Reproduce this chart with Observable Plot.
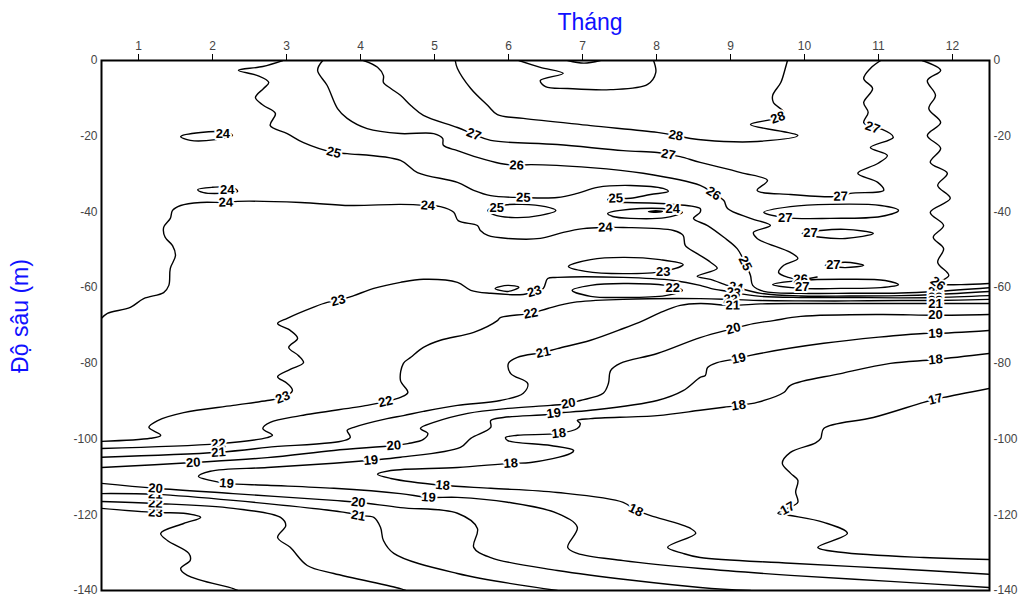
<!DOCTYPE html>
<html>
<head>
<meta charset="utf-8">
<script src="https://cdn.jsdelivr.net/npm/d3@7"></script>
<script src="https://cdn.jsdelivr.net/npm/@observablehq/plot@0.6"></script>
<style>
  html, body { margin: 0; padding: 0; background: #fff; }
  #chart { width: 1019px; height: 599px; }
</style>
</head>
<body>
<div id="chart"></div>
<script>
// ---------- axis values ----------
const monthTicks = [1, 2, 3, 4, 5, 6, 7, 8, 9, 10, 11, 12];
const depthTicks = [0, -20, -40, -60, -80, -100, -120, -140];
const monthDomain = [0.5, 12.5];
const depthDomain = [-140, 0];

// ---------- isolines: [month, depth (m)] ----------
const c30 = [[6.8,0],[7.02,-0.7],[7.24,0]];
const c29 = [[6.14,0],[6.43,-1.8],[6.74,-3.4],[6.43,-5.3],[6.5,-6.9],[6.8,-7.4],[7.38,-7.7],[7.88,-6.3],[7.99,-3.2],[7.96,0]];
const c28 = [[5.28,0],[5.31,-2.1],[5.49,-7.4],[5.72,-11.9],[5.85,-14.3],[6.2,-15.3],[7.11,-17.2],[8.01,-19.0],[8.26,-19.8],[8.46,-20.6],[8.91,-21.4],[9.36,-21.4],[9.91,-19.8],[9.27,-16.9],[9.64,-15.1],[9.72,-13.7],[9.58,-11.1],[9.57,-9.2],[9.68,-5.8],[9.74,-2.1],[9.77,0]];
const c27 = [[4.04,0],[4.23,-1.8],[4.31,-4.0],[4.31,-5.8],[4.41,-7.4],[4.54,-9.2],[4.68,-11.9],[4.85,-14.5],[5.31,-17.7],[5.53,-19.5],[5.76,-21.1],[6.66,-22.2],[7.55,-23.8],[8.01,-24.3],[8.16,-24.8],[8.32,-25.4],[8.59,-26.9],[9.14,-29.6],[9.5,-31.7],[9.36,-34.3],[9.81,-35.4],[10.49,-35.9],[10.62,-35.1],[11.07,-34.3],[10.99,-32.2],[10.72,-29.8],[10.99,-27.2],[11.12,-25.1],[10.89,-23.0],[11.2,-20.3],[11.05,-18.2],[10.92,-17.7],[10.8,-16.4],[10.86,-13.7],[10.8,-11.1],[10.92,-7.4],[10.8,-4.8],[10.89,-2.1],[11.03,0]];
const c26 = [[3.49,0],[3.42,-2.6],[3.55,-6.6],[3.69,-12.7],[3.82,-15.3],[4.09,-18.0],[4.54,-19.3],[4.99,-19.3],[5.11,-20.6],[5.12,-22.4],[5.31,-23.8],[5.58,-25.6],[5.89,-27.2],[6.11,-27.7],[6.3,-27.5],[7.11,-28.3],[7.82,-29.8],[8.59,-33.0],[8.77,-35.1],[8.91,-37.0],[8.96,-39.1],[9.27,-41.7],[9.54,-43.6],[9.31,-45.4],[9.36,-47.0],[9.81,-50.7],[9.91,-52.3],[9.72,-54.1],[9.65,-56.0],[9.78,-57.3],[9.95,-57.8],[10.17,-57.2]];
const c26b = [[11.59,0],[11.84,-2.6],[11.66,-5.3],[11.77,-9.2],[11.68,-12.7],[11.84,-16.4],[11.66,-19.8],[11.84,-23.2],[11.7,-26.9],[11.93,-29.8],[11.8,-33.0],[11.97,-36.4],[11.7,-40.1],[11.88,-43.6],[11.74,-46.7],[11.88,-49.7],[11.8,-53.3],[11.95,-56.8],[11.8,-58.9],[12.11,-59.2],[12.5,-58.9]];
const c25 = [[2.95,0],[2.68,-1.6],[2.35,-2.6],[2.61,-4.0],[2.76,-5.8],[2.69,-7.4],[2.58,-9.8],[2.69,-11.9],[2.85,-14.0],[2.78,-17.2],[3.01,-19.3],[3.23,-21.7],[3.64,-24.3],[3.82,-24.6],[4.54,-26.4],[4.77,-29.6],[5.31,-32.2],[5.53,-34.3],[5.76,-35.7],[6.2,-36.2],[6.66,-36.2],[6.93,-35.1],[7.2,-33.5],[7.65,-33.0],[8.09,-33.8],[8.16,-34.6],[7.92,-35.4],[7.65,-36.4],[7.45,-36.4],[7.34,-36.7],[7.38,-37.5],[7.55,-37.5],[8.23,-38.0],[8.59,-39.1],[8.59,-40.1],[8.5,-41.7],[8.69,-43.6],[8.91,-46.7],[9.09,-49.7],[9.2,-53.6],[9.27,-56.8],[9.3,-59.4],[9.45,-61.0],[9.95,-61.5],[10.62,-61.5],[11.3,-61.4],[11.77,-61.0],[12.5,-60.0]];
const c24 = [[0.5,-68.1],[0.58,-66.8],[0.89,-65.2],[1.07,-62.9],[1.34,-61.3],[1.41,-59.4],[1.43,-54.9],[1.5,-51.5],[1.46,-48.9],[1.36,-46.7],[1.34,-44.1],[1.43,-41.7],[1.46,-39.6],[1.57,-38.3],[1.84,-37.5],[2.18,-37.5],[2.34,-37.2],[3.19,-37.5],[3.86,-38.3],[4.54,-38.0],[4.91,-38.3],[5.08,-38.6],[5.26,-40.1],[5.32,-42.3],[5.58,-43.6],[5.62,-44.9],[5.72,-46.2],[5.99,-47.0],[6.43,-47.0],[6.74,-45.4],[7.01,-44.4],[7.31,-44.1],[7.55,-44.1],[8.23,-44.9],[8.36,-46.2],[8.39,-48.9],[8.55,-51.0],[8.73,-53.3],[8.82,-54.9],[8.55,-57.0],[8.73,-57.8],[8.96,-59.4],[9.07,-59.9],[9.41,-61.5],[9.95,-62.2],[10.62,-62.2],[11.3,-62.1],[11.77,-61.8],[12.5,-61.0]];
const c23 = [[0.5,-100.6],[1.16,-99.8],[1.3,-99.0],[1.14,-96.9],[1.26,-95.1],[1.61,-93.0],[2.28,-91.1],[2.74,-89.8],[2.95,-89.0],[3.08,-87.2],[3.01,-85.3],[2.88,-83.5],[3.05,-81.6],[3.23,-79.8],[3.16,-77.9],[3.03,-75.8],[3.15,-73.4],[3.05,-71.3],[2.88,-69.5],[3.01,-68.1],[3.36,-65.2],[3.55,-63.9],[3.7,-63.4],[3.91,-62.1],[4.18,-60.2],[4.54,-58.6],[4.85,-57.8],[5.31,-58.6],[5.49,-60.7],[5.76,-61.5],[6.2,-61.8],[6.35,-61.0],[6.47,-60.2],[6.53,-57.6],[6.66,-57.3],[7.55,-57.3],[8.23,-58.1],[8.59,-59.4],[8.73,-60.2],[8.96,-61.0],[9.04,-61.3],[9.41,-62.3],[9.95,-62.6],[10.62,-62.6],[11.3,-62.7],[11.77,-62.6],[12.5,-62.1]];
const c22 = [[0.5,-102.5],[2.08,-101.2],[2.74,-99.6],[2.81,-99.0],[2.68,-97.2],[2.78,-95.6],[3.19,-93.8],[4.09,-91.1],[4.34,-90.1],[4.54,-89.0],[4.64,-87.7],[4.54,-84.5],[4.58,-80.0],[4.68,-78.4],[4.85,-75.8],[5.08,-73.9],[5.53,-71.8],[5.85,-68.7],[5.89,-67.9],[6.3,-66.8],[6.53,-65.5],[6.88,-63.9],[7.55,-63.1],[8.59,-62.9],[9.0,-63.1],[9.41,-63.4],[9.95,-63.5],[10.62,-63.5],[11.3,-63.4],[11.77,-63.4],[12.5,-63.1]];
const c21 = [[0.5,-104.8],[2.08,-103.5],[2.74,-102.2],[3.86,-99.6],[3.82,-97.7],[3.91,-96.9],[4.36,-94.6],[4.58,-93.8],[4.85,-92.7],[5.31,-91.1],[5.89,-89.8],[6.2,-87.9],[6.26,-85.3],[6.03,-82.7],[6.0,-80.0],[6.12,-78.4],[6.47,-77.1],[6.66,-76.1],[7.11,-73.9],[7.55,-70.8],[7.82,-68.7],[8.05,-66.6],[8.32,-64.7],[8.59,-64.2],[9.03,-64.7],[9.41,-64.3],[9.95,-64.2],[10.62,-64.2],[11.3,-64.2],[11.77,-64.2],[12.5,-64.2]];
const c20 = [[0.5,-107.5],[1.74,-106.2],[2.74,-104.9],[3.64,-103.0],[4.45,-101.7],[4.64,-101.2],[4.85,-100.1],[4.91,-98.5],[4.81,-97.2],[4.99,-95.6],[5.45,-93.2],[5.99,-91.9],[6.57,-91.1],[6.81,-90.6],[6.97,-89.8],[7.28,-87.9],[7.35,-85.3],[7.38,-81.9],[7.51,-80.0],[8.01,-77.4],[8.59,-73.2],[9.04,-70.8],[9.31,-69.5],[9.58,-68.7],[9.95,-67.6],[11.03,-67.1],[11.77,-67.3],[12.5,-67.1]];
const c19 = [[12.5,-71.3],[11.77,-72.1],[11.61,-72.1],[10.26,-74.7],[9.27,-77.9],[9.11,-78.7],[8.82,-79.8],[8.69,-81.1],[8.66,-83.2],[8.59,-83.7],[8.36,-87.2],[8.01,-89.8],[7.11,-92.4],[6.74,-93.0],[6.61,-93.2],[6.53,-93.5],[5.93,-94.3],[5.76,-95.1],[5.76,-96.9],[5.49,-99.8],[5.35,-102.2],[4.54,-104.8],[4.14,-105.6],[3.64,-106.4],[2.74,-107.5],[1.97,-108.5],[1.81,-109.9],[1.97,-110.9],[2.19,-111.7],[2.74,-112.2],[3.64,-113.0],[4.54,-114.4],[4.92,-115.4],[5.31,-115.4],[5.99,-116.7],[6.66,-119.6],[6.93,-123.3],[6.8,-128.6],[6.93,-130.2],[7.55,-132.1],[8.59,-134.2],[9.81,-136.0],[11.16,-137.6],[12.5,-139.2]];
const c18 = [[12.5,-77.4],[11.77,-79.0],[11.16,-80.0],[10.49,-82.7],[9.81,-85.8],[9.72,-87.7],[9.36,-90.3],[9.11,-91.1],[8.91,-91.6],[8.59,-92.4],[8.01,-93.8],[7.11,-94.6],[6.93,-95.1],[6.97,-95.9],[6.93,-97.2],[6.68,-98.5],[6.12,-99.0],[5.96,-99.6],[5.99,-100.4],[6.57,-101.7],[6.88,-103.0],[6.84,-103.8],[6.3,-106.2],[6.03,-106.4],[5.31,-107.5],[4.41,-108.3],[4.23,-109.3],[4.41,-110.4],[5.11,-112.2],[5.76,-113.0],[6.66,-114.1],[7.55,-116.7],[7.72,-118.8],[7.92,-120.2],[8.46,-123.6],[8.53,-124.9],[8.15,-128.6],[8.36,-130.2],[8.59,-131.3],[9.81,-132.8],[11.16,-134.2],[12.5,-135.7]];
const c17 = [[12.5,-86.6],[11.88,-89.0],[11.77,-89.5],[11.61,-90.3],[10.93,-94.3],[10.26,-97.2],[10.22,-99.8],[10.15,-101.0],[9.81,-103.5],[9.7,-106.4],[9.81,-109.0],[9.91,-110.9],[9.88,-114.0],[9.91,-116.7],[9.77,-118.3],[9.64,-119.6],[9.81,-120.2],[10.26,-122.0],[10.58,-124.9],[10.18,-128.6],[10.49,-129.9],[11.61,-131.3],[12.5,-131.8]];
const c20b = [[0.5,-111.7],[1.23,-113.0],[2.28,-114.4],[3.64,-116.2],[3.97,-116.7],[4.54,-118.1],[5.31,-119.6],[5.58,-123.6],[5.53,-128.6],[5.76,-131.3],[6.66,-134.7],[8.59,-139.2],[9.27,-140]];
const c21b = [[0.5,-114.4],[1.23,-114.6],[2.28,-116.2],[3.86,-119.6],[3.97,-120.2],[4.18,-120.7],[4.27,-123.3],[4.31,-126.8],[4.45,-130.2],[5.31,-135.5],[6.66,-140]];
const c22b = [[0.5,-116.5],[1.23,-117.0],[2.28,-118.3],[2.92,-120.7],[2.99,-122.8],[2.88,-126.0],[3.05,-128.6],[3.28,-133.4],[3.64,-135.5],[4.54,-139.5],[4.61,-140]];
const c23b = [[0.5,-118.3],[1.23,-119.4],[1.61,-119.6],[1.84,-120.7],[1.61,-122.3],[1.3,-124.9],[1.39,-126.8],[1.68,-130.2],[1.7,-132.0],[1.57,-134.2],[1.66,-136.0],[2.28,-139.5],[2.34,-140]];

// closed loops
const L24a = [[1.57,-20.1],[1.84,-19.0],[2.18,-19.0],[2.27,-19.8],[2.04,-20.9],[1.7,-21.1]];
const L24b = [[1.8,-34.1],[2.0,-33.5],[2.27,-33.5],[2.34,-34.6],[2.11,-35.1],[1.88,-34.9]];
const L25c = [[5.72,-39.6],[5.89,-38.3],[6.18,-38.0],[6.5,-38.6],[6.64,-39.6],[6.43,-40.9],[6.09,-41.5],[5.8,-40.7]];
const L24c = [[7.34,-40.4],[7.78,-39.1],[8.22,-39.4],[8.35,-40.1],[8.12,-41.5],[7.65,-41.7],[7.41,-41.2]];
const L24d = [[7.89,-39.9],[7.99,-39.7],[8.08,-39.9],[7.99,-40.1]];
const L23c = [[6.81,-54.4],[7.11,-52.6],[7.55,-52.0],[8.05,-52.6],[8.36,-53.9],[8.09,-55.7],[7.55,-56.3],[7.04,-55.7]];
const L22c = [[6.86,-60.7],[7.11,-59.4],[7.55,-58.9],[8.12,-59.4],[8.35,-60.7],[8.12,-62.1],[7.55,-62.6],[7.11,-62.3]];
const L23d = [[5.82,-60.2],[5.99,-59.4],[6.14,-59.9],[5.99,-61.0]];
const L27a = [[9.45,-40.1],[9.81,-38.6],[10.35,-38.0],[11.03,-38.3],[11.27,-39.6],[11.03,-41.2],[10.35,-41.7],[9.74,-41.5]];
const L27b = [[9.97,-45.7],[10.22,-44.9],[10.55,-44.6],[10.93,-45.7],[10.55,-47.0],[10.22,-46.7]];
const L27c = [[10.28,-54.1],[10.55,-53.3],[10.8,-54.1],[10.55,-54.7]];
const L27d = [[9.57,-59.2],[9.95,-58.1],[10.49,-57.8],[11.09,-58.1],[11.27,-59.2],[11.03,-60.0],[10.49,-60.2],[9.95,-60.2]];

// contour labels: [level, month, depth]
const labels = [
  [24,2.14,-19.5],[24,2.20,-34.1],[24,2.18,-37.5],[24,4.91,-38.3],[24,7.31,-44.1],[24,8.22,-39.3],[24,9.07,-59.9],[24,11.77,-61.8],
  [25,3.64,-24.3],[25,6.20,-36.2],[25,5.84,-38.8],[25,7.45,-36.4],[25,9.20,-53.6],[25,11.77,-61.0],
  [26,6.11,-27.7],[26,8.77,-35.1],[26,9.95,-57.8],[26,11.80,-58.9],
  [27,5.53,-19.5],[27,8.16,-24.8],[27,10.49,-35.9],[27,10.92,-17.7],[27,9.74,-41.5],[27,10.08,-45.4],[27,10.39,-54.1],[27,9.97,-59.7],
  [28,8.26,-19.8],[28,9.64,-15.1],
  [23,3.70,-63.4],[23,2.95,-89.0],[23,6.35,-61.0],[23,8.09,-55.7],[23,9.04,-61.3],[23,11.77,-62.6],[23,1.23,-119.4],
  [22,2.08,-101.2],[22,4.34,-90.1],[22,6.30,-66.8],[22,8.22,-60.0],[22,9.00,-63.1],[22,11.77,-63.4],[22,1.23,-117.0],
  [21,2.08,-103.5],[21,6.47,-77.1],[21,9.03,-64.7],[21,11.77,-64.2],[21,1.23,-114.6],[21,3.97,-120.2],
  [20,1.74,-106.2],[20,4.45,-101.7],[20,6.81,-90.6],[20,9.04,-70.8],[20,11.77,-67.3],[20,1.23,-113.0],[20,3.97,-116.7],
  [19,4.14,-105.6],[19,2.19,-111.7],[19,6.61,-93.2],[19,9.11,-78.7],[19,11.77,-72.1],[19,4.92,-115.4],
  [18,5.11,-112.2],[18,6.03,-106.4],[18,6.68,-98.5],[18,9.11,-91.1],[18,11.77,-79.0],[18,7.72,-118.8],
  [17,11.77,-89.5],[17,9.77,-118.3]
];

// ---------- build tables ----------
const lines = [
  {level:30, pts:c30, closed:false}, {level:29, pts:c29, closed:false},
  {level:28, pts:c28, closed:false}, {level:27, pts:c27, closed:false},
  {level:26, pts:c26, closed:false}, {level:26, pts:c26b, closed:false},
  {level:25, pts:c25, closed:false}, {level:24, pts:c24, closed:false},
  {level:23, pts:c23, closed:false}, {level:22, pts:c22, closed:false},
  {level:21, pts:c21, closed:false}, {level:20, pts:c20, closed:false},
  {level:19, pts:c19, closed:false}, {level:18, pts:c18, closed:false},
  {level:17, pts:c17, closed:false}, {level:20, pts:c20b, closed:false},
  {level:21, pts:c21b, closed:false}, {level:22, pts:c22b, closed:false},
  {level:23, pts:c23b, closed:false},
  {level:24, pts:L24a, closed:true}, {level:24, pts:L24b, closed:true},
  {level:25, pts:L25c, closed:true}, {level:24, pts:L24c, closed:true},
  {level:24, pts:L24d, closed:true}, {level:23, pts:L23c, closed:true},
  {level:22, pts:L22c, closed:true}, {level:23, pts:L23d, closed:true},
  {level:27, pts:L27a, closed:true}, {level:27, pts:L27b, closed:true},
  {level:27, pts:L27c, closed:true}, {level:27, pts:L27d, closed:true}
];

const W = 1019, H = 599, ML = 101, MR = 30, MT = 60, MB = 9;
const kx = (W - ML - MR) / (monthDomain[1] - monthDomain[0]);
const ky = (H - MT - MB) / (depthDomain[1] - depthDomain[0]);

const rows = [];
lines.forEach((L, i) => L.pts.forEach(([m, d]) => rows.push({id: i, level: L.level, closed: L.closed, m, d})));

// label angle follows the nearest isoline of the same level (loops keep labels level)
function angleAt(level, m, d) {
  let best = null, bd = Infinity;
  lines.forEach(L => {
    if (L.level !== level) return;
    L.pts.forEach((p, j) => {
      const dx = (p[0] - m) * kx, dy = (p[1] - d) * ky;
      const dist = dx * dx + dy * dy;
      if (dist < bd) { bd = dist; best = {L, j}; }
    });
  });
  if (!best || best.L.closed) return 0;
  const P = best.L.pts, n = P.length, j = best.j;
  const a = P[Math.max(0, j - 1)], b = P[Math.min(n - 1, j + 1)];
  let ang = Math.atan2(-(b[1] - a[1]) * ky, (b[0] - a[0]) * kx) * 180 / Math.PI;
  if (ang > 90) ang -= 180;
  if (ang < -90) ang += 180;
  return ang;
}
const labelRows = labels.map(([level, m, d]) => ({level, m, d, t: String(level), a: angleAt(level, m, d)}));

const fmt = d => String(d);  // plain hyphen-minus like the reference

const chart = Plot.plot({
  width: W, height: H,
  marginLeft: ML, marginRight: MR, marginTop: MT, marginBottom: MB,
  x: {domain: monthDomain},
  y: {domain: depthDomain},
  style: {fontFamily: "Liberation Sans, Arial, sans-serif", fontSize: "12px", color: "#333", background: "white"},
  marks: [
    Plot.line(rows.filter(r => !r.closed), {x: "m", y: "d", z: "id", curve: "catmull-rom", stroke: "black", strokeWidth: 1.4, clip: true}),
    Plot.line(rows.filter(r => r.closed), {x: "m", y: "d", z: "id", curve: "catmull-rom-closed", stroke: "black", strokeWidth: 1.4, clip: true}),
    Plot.text(labelRows, {x: "m", y: "d", text: "t", rotate: "a", fontSize: 13, fontWeight: "bold",
      fontFamily: "Liberation Sans, Arial, sans-serif", fill: "black", stroke: "white", strokeWidth: 4, paintOrder: "stroke"}),
    Plot.axisX(monthTicks, {anchor: "top", tickSize: 7, tickPadding: 4, label: null, stroke: "black", fill: "#444", tickFormat: fmt}),
    Plot.axisY(depthTicks, {anchor: "left", tickSize: 0, tickPadding: 4, label: null, fill: "#444", tickFormat: fmt}),
    Plot.axisY(depthTicks, {anchor: "right", tickSize: 0, tickPadding: 4, label: null, fill: "#444", tickFormat: fmt}),
    Plot.frame({stroke: "black", strokeWidth: 2})
  ]
});

const svg = d3.select(chart);
svg.append("text")
  .attr("x", 590).attr("y", 30)
  .attr("text-anchor", "middle")
  .attr("font-family", "Liberation Sans, Arial, sans-serif")
  .attr("font-size", 23)
  .attr("fill", "#1010ff")
  .text("Tháng");
svg.append("text")
  .attr("transform", "translate(28,316) rotate(-90)")
  .attr("text-anchor", "middle")
  .attr("font-family", "Liberation Sans, Arial, sans-serif")
  .attr("font-size", 23)
  .attr("fill", "#1010ff")
  .text("Độ sâu (m)");

document.getElementById("chart").appendChild(chart);
</script>
</body>
</html>
